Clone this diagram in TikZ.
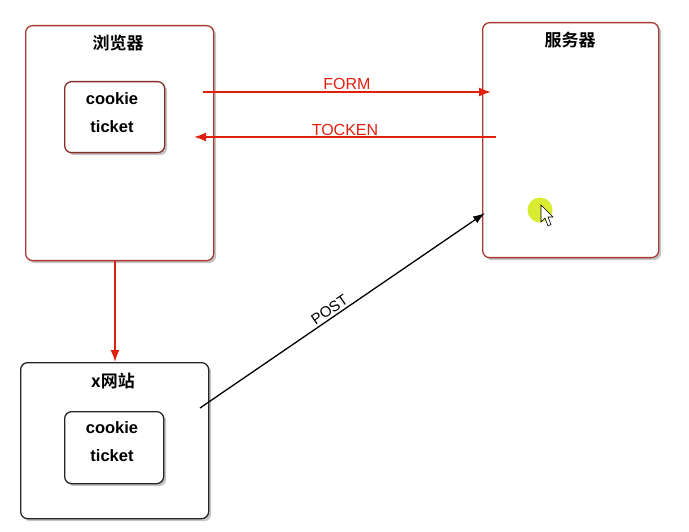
\documentclass[tikz,border=0pt]{standalone}
\usepackage{fontspec}
\setmainfont{Liberation Sans}
\newfontfamily\cjk{Noto Sans CJK SC}[BoldFont={Noto Sans CJK SC Bold}]
\usetikzlibrary{shadows,arrows.meta}
\definecolor{boxred}{HTML}{A83A32}
\definecolor{arrred}{HTML}{E0200E}
\definecolor{hl}{HTML}{D6EA1C}
\tikzset{
  outer/.style={draw=boxred, line width=1.3pt, fill=white, rounded corners=7pt, anchor=north west,
     drop shadow={opacity=0.45, shadow xshift=2.5pt, shadow yshift=-2.5pt}},
  outerk/.style={outer, draw=black!85},
  inner/.style={outer, draw=boxred!80!black},
  innerk/.style={inner, draw=black!85},
  cktext/.style={align=center, font=\bfseries\fontsize{16.5}{28}\selectfont, inner sep=0pt},
  title/.style={font=\cjk\bfseries\fontsize{17}{19}\selectfont},
  redarr/.style={draw=arrred, line width=1.6pt, -{Latex[length=12pt,width=9pt]}},
  blkarr/.style={draw=black, line width=1.3pt, -{Latex[length=12pt,width=8pt]}},
  rlabel/.style={text=arrred, font=\fontsize{16}{18}\selectfont, inner sep=1pt},
  klabel/.style={text=black, font=\fontsize{15}{17}\selectfont, inner sep=1pt}
}
\begin{document}
\begin{tikzpicture}[x=1pt,y=-1pt]
\useasboundingbox[fill=white] (0,0) rectangle (689,532);
% boxes
\node[outer, minimum width=188pt, minimum height=235pt] (browser) at (25,25) {};
\node[title] (browsert) at (118,43) {浏览器};
\node[inner, minimum width=100pt, minimum height=71pt] (bc) at (64,81) {};
\node[cktext] (bctext) at (112,113) {cookie\\ticket};

\node[outer, minimum width=176pt, minimum height=235pt] (server) at (482,22) {};
\node[title] (servert) at (570,40) {服务器};

\node[outerk, minimum width=188pt, minimum height=156pt] (xsite) at (20,362) {};
\node[title] (xsitet) at (113,381) {x网站};
\node[innerk, minimum width=99pt, minimum height=72pt] (xc) at (64,411) {};
\node[cktext] (xctext) at (112,442) {cookie\\ticket};

% coordinates for connectors
\coordinate (f1) at (203,92);
\coordinate (f2) at (491,92);
\coordinate (t1) at (496,137);
\coordinate (t2) at (194,137);
\coordinate (p1) at (200,408);
\coordinate (p2) at (485,213);

\draw[redarr] (f1) -- node[rlabel, above=1pt] (form) {FORM} (f2);
\draw[redarr] (t1) -- node[rlabel, above=0pt] (tocken) {TOCKEN} (t2);
\draw[redarr] (browser.south -| 115,0) -- (xsite.north -| 115,0);
\draw[blkarr] (p1) -- node[klabel, pos=0.47, sloped, above=1pt] (post) {POST} (p2);

% cursor highlight
\fill[hl, opacity=0.9] (540,210) circle (12.5);
\draw[black, fill=white, line width=0.6pt] (541,205) -- (541,222) -- (545,218) -- (548,226) -- (551,224.5) -- (548,217) -- (553,217) -- cycle;
\end{tikzpicture}
\end{document}
